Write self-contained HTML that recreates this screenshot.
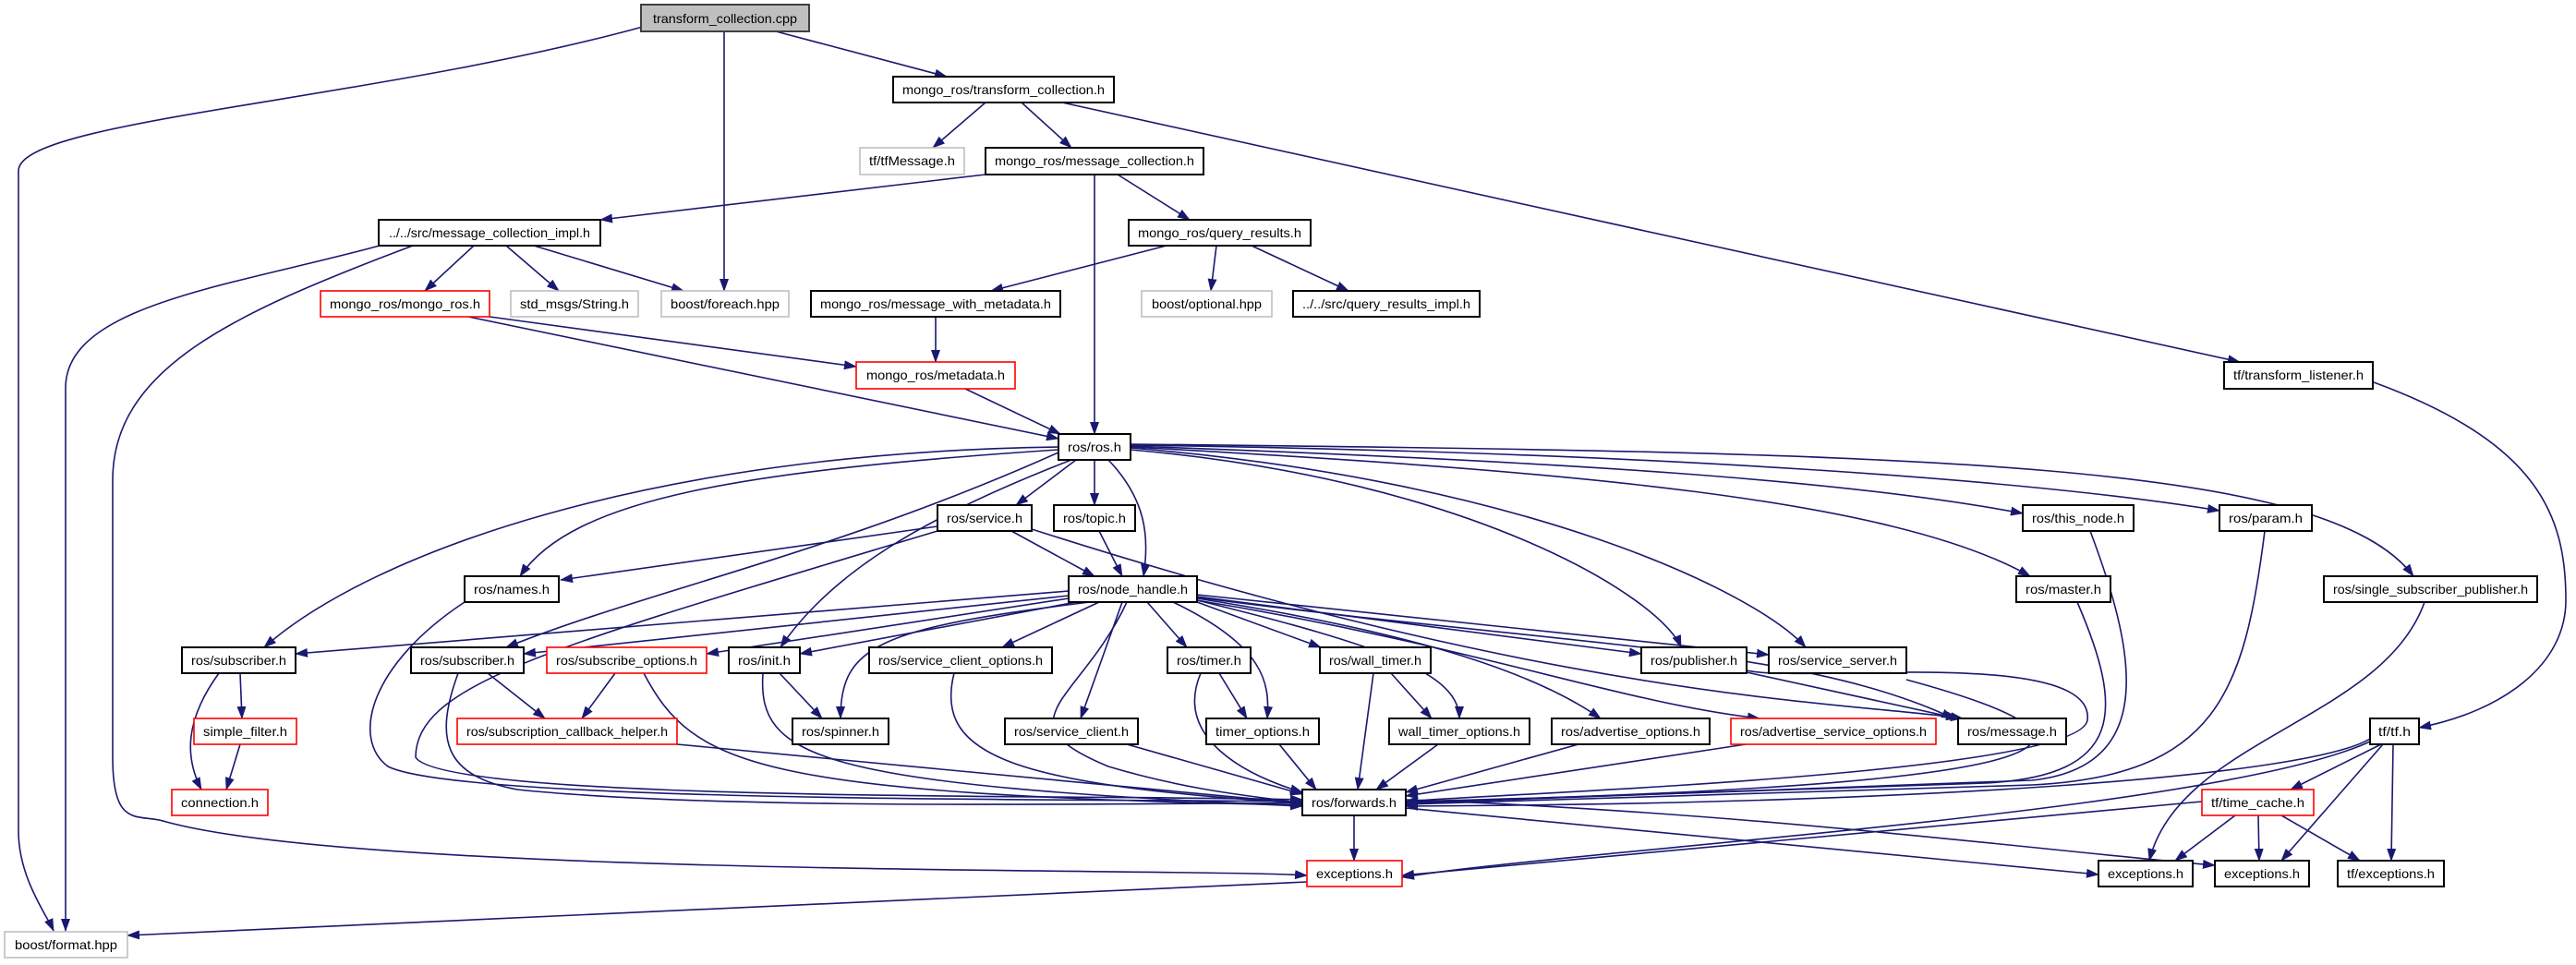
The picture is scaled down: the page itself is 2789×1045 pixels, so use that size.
<!DOCTYPE html>
<html><head><meta charset="utf-8"><style>
html,body{margin:0;padding:0;background:#fff;}
svg{display:block;}
text{font-family:"Liberation Sans",sans-serif;font-size:14px;fill:#000;}
.e{fill:none;stroke:#191970;stroke-width:1.6;marker-end:url(#a);}
.n{fill:#fff;stroke:#000;stroke-width:2;}
.r{fill:#fff;stroke:#ff0000;stroke-width:1.6;}
.g{fill:#fff;stroke:#bfbfbf;stroke-width:1.6;}
</style></head><body>
<svg width="2789" height="1045" viewBox="0 0 2789 1045" xmlns="http://www.w3.org/2000/svg">
<defs><marker id="a" markerUnits="userSpaceOnUse" markerWidth="14" markerHeight="10" refX="13" refY="5" orient="auto"><path d="M0,0 L14,5 L0,10 z" fill="#191970"/></marker></defs>
<g>
<path class="e" d="M696,29 C400,110 20,130 20,185 L20,900 C20,950 50,990 58,1008"/>
<path class="e" d="M784,34 L784,315"/>
<path class="e" d="M840,34 L1025,83"/>
<path class="e" d="M1067,111 L1010,160"/>
<path class="e" d="M1106,111 L1160,160"/>
<path class="e" d="M1150,111 L2425,392"/>
<path class="e" d="M1067,189 L650,238"/>
<path class="e" d="M1185,189 L1185,470"/>
<path class="e" d="M1210,189 L1288,238"/>
<path class="e" d="M411,266 C250,310 71,330 71,420 L71,1008"/>
<path class="e" d="M447,266 C250,340 122,400 122,520 L122,820 C122,900 150,880 180,890 C400,950 1300,940 1415,948"/>
<path class="e" d="M513,266 L460,315"/>
<path class="e" d="M548,266 L605,315"/>
<path class="e" d="M578,266 L740,315"/>
<path class="e" d="M1263,266 L1073,315"/>
<path class="e" d="M1317,266 L1311,315"/>
<path class="e" d="M1355,266 L1460,315"/>
<path class="e" d="M530,343 L927,397"/>
<path class="e" d="M507,343 L1146,475"/>
<path class="e" d="M1013,343 L1013,392"/>
<path class="e" d="M1045,421 L1148,470"/>
<path class="e" d="M2570,414 C2750,480 2778,560 2778,650 C2778,720 2710,770 2619,788"/>
<path class="e" d="M1165,498 L1100,547"/>
<path class="e" d="M1185,498 L1185,547"/>
<path class="e" d="M1200,498 C1240,540 1245,580 1238,624"/>
<path class="e" d="M1146,487 C800,510 620,540 563,624"/>
<path class="e" d="M1146,484 C700,490 400,600 286,701"/>
<path class="e" d="M1146,490 C900,600 700,640 548,701"/>
<path class="e" d="M1160,498 C1000,560 900,620 845,701"/>
<path class="e" d="M1224,487 C1600,520 1800,650 1820,701"/>
<path class="e" d="M1224,485 C1650,520 1900,640 1955,701"/>
<path class="e" d="M1224,483 C1700,500 2000,520 2190,556"/>
<path class="e" d="M1224,482 C1800,490 2200,520 2403,553"/>
<path class="e" d="M1224,484 C1700,510 2050,540 2198,624"/>
<path class="e" d="M1224,481 C2100,490 2520,500 2613,624"/>
<path class="e" d="M1015,570 L607,628"/>
<path class="e" d="M1095,575 L1185,624"/>
<path class="e" d="M1015,575 C600,700 450,740 450,820 C480,870 1200,860 1410,866"/>
<path class="e" d="M1117,573 C1700,760 2000,760 2125,778"/>
<path class="e" d="M1190,575 L1215,624"/>
<path class="e" d="M503,652 C400,720 380,800 420,830 C500,870 1200,865 1410,868"/>
<path class="e" d="M1157,640 L320,708"/>
<path class="e" d="M1157,645 L567,708"/>
<path class="e" d="M1157,648 L765,708"/>
<path class="e" d="M1165,652 L866,708"/>
<path class="e" d="M1180,652 C950,680 910,700 910,778"/>
<path class="e" d="M1190,652 L1085,701"/>
<path class="e" d="M1215,652 L1170,778"/>
<path class="e" d="M1242,652 L1285,701"/>
<path class="e" d="M1270,652 C1370,700 1375,740 1372,778"/>
<path class="e" d="M1220,652 C1170,760 1080,780 1200,830 C1300,860 1380,864 1410,870"/>
<path class="e" d="M1296,652 L1430,701"/>
<path class="e" d="M1296,650 C1500,700 1580,730 1580,778"/>
<path class="e" d="M1296,646 L1777,708"/>
<path class="e" d="M1296,644 L1915,709"/>
<path class="e" d="M1296,648 C1500,680 1650,720 1733,778"/>
<path class="e" d="M1296,650 C1600,700 1750,760 1905,778"/>
<path class="e" d="M1296,647 C1700,700 1950,700 2115,778"/>
<path class="e" d="M260,729 L262,778"/>
<path class="e" d="M237,729 C200,780 200,820 218,855"/>
<path class="e" d="M260,806 L245,855"/>
<path class="e" d="M528,729 L590,778"/>
<path class="e" d="M496,729 C470,800 480,840 560,855 C800,880 1300,868 1410,870"/>
<path class="e" d="M666,729 L630,778"/>
<path class="e" d="M697,729 C750,830 820,860 1410,872"/>
<path class="e" d="M733,806 L1410,870"/>
<path class="e" d="M844,729 L890,778"/>
<path class="e" d="M826,729 C820,820 880,850 1410,873"/>
<path class="e" d="M1033,729 C1010,820 1100,850 1410,870"/>
<path class="e" d="M1220,806 L1410,860"/>
<path class="e" d="M1320,729 L1350,778"/>
<path class="e" d="M1300,729 C1270,800 1350,840 1410,858"/>
<path class="e" d="M1385,806 L1425,855"/>
<path class="e" d="M1506,729 L1550,778"/>
<path class="e" d="M1487,729 L1470,855"/>
<path class="e" d="M1557,806 L1490,855"/>
<path class="e" d="M1709,806 L1522,858"/>
<path class="e" d="M1890,806 L1522,862"/>
<path class="e" d="M1891,728 L2120,778"/>
<path class="e" d="M1891,726 C1950,740 2270,700 2260,780 C2250,840 1600,860 1522,868"/>
<path class="e" d="M2064,736 C2300,800 2300,850 1522,868"/>
<path class="e" d="M2263,575 C2310,700 2340,830 2200,845 L1522,870"/>
<path class="e" d="M2452,575 C2430,750 2400,840 2200,850 L1522,871"/>
<path class="e" d="M2249,652 C2300,770 2300,840 2150,848 L1522,869"/>
<path class="e" d="M2625,652 C2580,780 2360,800 2327,932"/>
<path class="e" d="M2566,800 C2500,840 2100,870 1522,873"/>
<path class="e" d="M2566,803 C2400,880 1700,920 1518,950"/>
<path class="e" d="M2578,806 L2480,855"/>
<path class="e" d="M2580,806 L2470,932"/>
<path class="e" d="M2591,806 L2589,932"/>
<path class="e" d="M2384,868 L1518,948"/>
<path class="e" d="M2420,883 L2355,932"/>
<path class="e" d="M2445,883 L2446,932"/>
<path class="e" d="M2470,883 L2555,932"/>
<path class="e" d="M1466,883 L1466,932"/>
<path class="e" d="M1522,875 L2272,947"/>
<path class="e" d="M1522,866 C1900,880 2200,920 2398,937"/>
<path class="e" d="M1415,955 L138,1013"/>
</g>
<g>
<rect x="694" y="5" width="182" height="29" fill="#bfbfbf" stroke="#404040" stroke-width="2"/>
<text x="785" y="25" text-anchor="middle" textLength="156" lengthAdjust="spacingAndGlyphs">transform_collection.cpp</text>

<rect class="n" x="967" y="83" width="239" height="28"/><text x="1086.5" y="102" text-anchor="middle" textLength="219" lengthAdjust="spacingAndGlyphs">mongo_ros/transform_collection.h</text>
<rect class="g" x="931" y="160" width="113" height="29"/><text x="987.5" y="179" text-anchor="middle" textLength="93" lengthAdjust="spacingAndGlyphs">tf/tfMessage.h</text>
<rect class="n" x="1067" y="160" width="236" height="29"/><text x="1185" y="179" text-anchor="middle" textLength="216" lengthAdjust="spacingAndGlyphs">mongo_ros/message_collection.h</text>
<rect class="n" x="410" y="238" width="240" height="28"/><text x="530" y="257" text-anchor="middle" textLength="218" lengthAdjust="spacingAndGlyphs">../../src/message_collection_impl.h</text>
<rect class="n" x="1222" y="238" width="197" height="28"/><text x="1320.5" y="257" text-anchor="middle" textLength="177" lengthAdjust="spacingAndGlyphs">mongo_ros/query_results.h</text>
<rect class="r" x="347" y="315" width="183" height="28"/><text x="438.5" y="334" text-anchor="middle" textLength="163" lengthAdjust="spacingAndGlyphs">mongo_ros/mongo_ros.h</text>
<rect class="g" x="553" y="315" width="138" height="28"/><text x="622" y="334" text-anchor="middle" textLength="118" lengthAdjust="spacingAndGlyphs">std_msgs/String.h</text>
<rect class="g" x="716" y="315" width="138" height="28"/><text x="785" y="334" text-anchor="middle" textLength="118" lengthAdjust="spacingAndGlyphs">boost/foreach.hpp</text>
<rect class="n" x="878" y="315" width="270" height="28"/><text x="1013" y="334" text-anchor="middle" textLength="250" lengthAdjust="spacingAndGlyphs">mongo_ros/message_with_metadata.h</text>
<rect class="g" x="1236" y="315" width="141" height="28"/><text x="1306.5" y="334" text-anchor="middle" textLength="119" lengthAdjust="spacingAndGlyphs">boost/optional.hpp</text>
<rect class="n" x="1400" y="315" width="202" height="28"/><text x="1501" y="334" text-anchor="middle" textLength="182" lengthAdjust="spacingAndGlyphs">../../src/query_results_impl.h</text>
<rect class="r" x="927" y="392" width="172" height="29"/><text x="1013" y="411" text-anchor="middle" textLength="150" lengthAdjust="spacingAndGlyphs">mongo_ros/metadata.h</text>
<rect class="n" x="2408" y="392" width="161" height="29"/><text x="2488.5" y="411" text-anchor="middle" textLength="141" lengthAdjust="spacingAndGlyphs">tf/transform_listener.h</text>
<rect class="n" x="1146" y="470" width="78" height="28"/><text x="1185" y="489" text-anchor="middle" textLength="58" lengthAdjust="spacingAndGlyphs">ros/ros.h</text>

<rect class="n" x="1015" y="547" width="102" height="28"/><text x="1066" y="566" text-anchor="middle" textLength="82" lengthAdjust="spacingAndGlyphs">ros/service.h</text>
<rect class="n" x="1141" y="547" width="88" height="28"/><text x="1185" y="566" text-anchor="middle" textLength="68" lengthAdjust="spacingAndGlyphs">ros/topic.h</text>
<rect class="n" x="2190" y="547" width="120" height="28"/><text x="2250" y="566" text-anchor="middle" textLength="100" lengthAdjust="spacingAndGlyphs">ros/this_node.h</text>
<rect class="n" x="2403" y="547" width="100" height="28"/><text x="2453" y="566" text-anchor="middle" textLength="80" lengthAdjust="spacingAndGlyphs">ros/param.h</text>

<rect class="n" x="503" y="624" width="102" height="28"/><text x="554" y="643" text-anchor="middle" textLength="82" lengthAdjust="spacingAndGlyphs">ros/names.h</text>
<rect class="n" x="1157" y="624" width="139" height="28"/><text x="1226.5" y="643" text-anchor="middle" textLength="119" lengthAdjust="spacingAndGlyphs">ros/node_handle.h</text>
<rect class="n" x="2183" y="624" width="102" height="28"/><text x="2234" y="643" text-anchor="middle" textLength="82" lengthAdjust="spacingAndGlyphs">ros/master.h</text>
<rect class="n" x="2516" y="624" width="231" height="28"/><text x="2631.5" y="643" text-anchor="middle" textLength="211" lengthAdjust="spacingAndGlyphs">ros/single_subscriber_publisher.h</text>

<rect class="n" x="197" y="701" width="123" height="28"/><text x="258.5" y="720" text-anchor="middle" textLength="103" lengthAdjust="spacingAndGlyphs">ros/subscriber.h</text>
<rect class="n" x="445" y="701" width="122" height="28"/><text x="506" y="720" text-anchor="middle" textLength="102" lengthAdjust="spacingAndGlyphs">ros/subscriber.h</text>
<rect class="r" x="592" y="701" width="173" height="28"/><text x="678.5" y="720" text-anchor="middle" textLength="153" lengthAdjust="spacingAndGlyphs">ros/subscribe_options.h</text>
<rect class="n" x="789" y="701" width="77" height="28"/><text x="827.5" y="720" text-anchor="middle" textLength="57" lengthAdjust="spacingAndGlyphs">ros/init.h</text>
<rect class="n" x="941" y="701" width="198" height="28"/><text x="1040" y="720" text-anchor="middle" textLength="178" lengthAdjust="spacingAndGlyphs">ros/service_client_options.h</text>
<rect class="n" x="1264" y="701" width="90" height="28"/><text x="1309" y="720" text-anchor="middle" textLength="70" lengthAdjust="spacingAndGlyphs">ros/timer.h</text>
<rect class="n" x="1429" y="701" width="120" height="28"/><text x="1489" y="720" text-anchor="middle" textLength="100" lengthAdjust="spacingAndGlyphs">ros/wall_timer.h</text>
<rect class="n" x="1777" y="701" width="114" height="28"/><text x="1834" y="720" text-anchor="middle" textLength="94" lengthAdjust="spacingAndGlyphs">ros/publisher.h</text>
<rect class="n" x="1915" y="701" width="149" height="28"/><text x="1989.5" y="720" text-anchor="middle" textLength="129" lengthAdjust="spacingAndGlyphs">ros/service_server.h</text>

<rect class="r" x="210" y="778" width="111" height="28"/><text x="265.5" y="797" text-anchor="middle" textLength="91" lengthAdjust="spacingAndGlyphs">simple_filter.h</text>
<rect class="r" x="495" y="778" width="238" height="28"/><text x="614" y="797" text-anchor="middle" textLength="218" lengthAdjust="spacingAndGlyphs">ros/subscription_callback_helper.h</text>
<rect class="n" x="858" y="778" width="104" height="28"/><text x="910" y="797" text-anchor="middle" textLength="84" lengthAdjust="spacingAndGlyphs">ros/spinner.h</text>
<rect class="n" x="1088" y="778" width="144" height="28"/><text x="1160" y="797" text-anchor="middle" textLength="124" lengthAdjust="spacingAndGlyphs">ros/service_client.h</text>
<rect class="n" x="1306" y="778" width="122" height="28"/><text x="1367" y="797" text-anchor="middle" textLength="102" lengthAdjust="spacingAndGlyphs">timer_options.h</text>
<rect class="n" x="1504" y="778" width="152" height="28"/><text x="1580" y="797" text-anchor="middle" textLength="132" lengthAdjust="spacingAndGlyphs">wall_timer_options.h</text>
<rect class="n" x="1680" y="778" width="171" height="28"/><text x="1765.5" y="797" text-anchor="middle" textLength="151" lengthAdjust="spacingAndGlyphs">ros/advertise_options.h</text>
<rect class="r" x="1874" y="778" width="222" height="28"/><text x="1985" y="797" text-anchor="middle" textLength="202" lengthAdjust="spacingAndGlyphs">ros/advertise_service_options.h</text>
<rect class="n" x="2120" y="778" width="117" height="28"/><text x="2178.5" y="797" text-anchor="middle" textLength="97" lengthAdjust="spacingAndGlyphs">ros/message.h</text>
<rect class="n" x="2566" y="778" width="53" height="28"/><text x="2592.5" y="797" text-anchor="middle" textLength="35" lengthAdjust="spacingAndGlyphs">tf/tf.h</text>

<rect class="r" x="186" y="855" width="104" height="28"/><text x="238" y="874" text-anchor="middle" textLength="84" lengthAdjust="spacingAndGlyphs">connection.h</text>
<rect class="n" x="1410" y="855" width="112" height="28"/><text x="1466" y="874" text-anchor="middle" textLength="92" lengthAdjust="spacingAndGlyphs">ros/forwards.h</text>
<rect class="r" x="2384" y="855" width="121" height="28"/><text x="2444.5" y="874" text-anchor="middle" textLength="101" lengthAdjust="spacingAndGlyphs">tf/time_cache.h</text>

<rect class="r" x="1415" y="932" width="103" height="28"/><text x="1466.5" y="951" text-anchor="middle" textLength="83" lengthAdjust="spacingAndGlyphs">exceptions.h</text>
<rect class="n" x="2272" y="932" width="102" height="28"/><text x="2323" y="951" text-anchor="middle" textLength="82" lengthAdjust="spacingAndGlyphs">exceptions.h</text>
<rect class="n" x="2398" y="932" width="102" height="28"/><text x="2449" y="951" text-anchor="middle" textLength="82" lengthAdjust="spacingAndGlyphs">exceptions.h</text>
<rect class="n" x="2531" y="932" width="115" height="28"/><text x="2588.5" y="951" text-anchor="middle" textLength="95" lengthAdjust="spacingAndGlyphs">tf/exceptions.h</text>

<rect class="g" x="5" y="1009" width="133" height="28"/><text x="71.5" y="1028" text-anchor="middle" textLength="111" lengthAdjust="spacingAndGlyphs">boost/format.hpp</text>
</g>
</svg>
</body></html>
